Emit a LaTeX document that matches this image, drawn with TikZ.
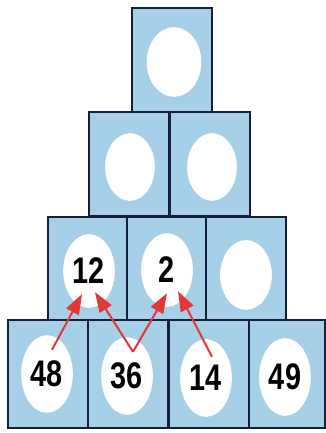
\documentclass[tikz,border=0pt]{standalone}
\usepackage{fontspec}
\setmainfont{Liberation Sans}[FakeStretch=0.78]
\usetikzlibrary{arrows.meta,shapes.geometric}
\definecolor{boxcolor}{RGB}{166,208,232}
\definecolor{linecolor}{RGB}{22,30,58}
\definecolor{arrowcolor}{RGB}{228,56,56}

\begin{document}
\begin{tikzpicture}[
				x=1pt,y=-1pt,
				box/.style={
					rectangle,
					draw=linecolor,
					line width=2.2pt,
					fill=boxcolor,
					minimum width=80pt,
					minimum height=104pt
				},
				hole/.style={
					ellipse,
					fill=white,
					draw=boxcolor!70!gray,
					densely dotted,
					thin,
					minimum width=52pt,
					minimum height=74pt,
					inner sep=0pt,
					font=\bfseries\fontsize{37}{37}\selectfont
				},
				edge/.style={
					-{Triangle[length=20pt,width=14pt]},
					line width=2pt,
					draw=arrowcolor,
					fill=arrowcolor
				}
				]
				\useasboundingbox (0,0) rectangle (326,433);
				% boxes, top row first
				\node[box] (t) at (172,60) {};
				\node[box] (ba) at (129,164) {};
				\node[box] (bb) at (210,164) {};
				\node[box] (ca) at (88,269) {};
				\node[box] (cb) at (167,269) {};
				\node[box] (cc) at (246,269) {};
				\node[box,minimum height=108pt] (da) at (48,374) {};
				\node[box,minimum height=108pt] (db) at (128,374) {};
				\node[box,minimum height=108pt] (dc) at (209,374) {};
				\node[box,minimum height=108pt,minimum width=76pt] (dd) at (287,374) {};
				
				% holes
				\node[hole,minimum width=55pt,minimum height=70pt] (et) at (174,62) {};
				\node[hole,minimum width=50pt,minimum height=68pt] (eba) at (130,167) {};
				\node[hole,minimum width=50pt,minimum height=68pt] (ebb) at (212,167) {};
				\node[hole] (e12) at (89,271) {12};
				\node[hole] (e2) at (167,270) {2};
				\node[hole,minimum height=70pt] (ecc) at (246,275) {};
				\node[hole,minimum height=78pt] (e48) at (47,374) {48};
				\node[hole,minimum height=78pt] (e36) at (127,376) {36};
				\node[hole,minimum height=78pt] (e14) at (206,378) {14};
				\node[hole,minimum height=78pt] (e49) at (285,377) {49};
				
				\draw[edge] ([xshift=5pt,yshift=-15pt]e48.north) -- ([xshift=-7pt,yshift=14pt]e12.south);
				\draw[edge] ([xshift=6pt,yshift=-15pt]e36.north) -- ([xshift=6pt,yshift=16pt]e12.south);
				\draw[edge] ([xshift=6pt,yshift=-15pt]e36.north) -- ([xshift=0pt,yshift=14pt]e2.south);
				\draw[edge] ([xshift=6pt,yshift=-18pt]e14.north) -- ([xshift=11pt,yshift=16pt]e2.south);
			\end{tikzpicture}
\end{document}
